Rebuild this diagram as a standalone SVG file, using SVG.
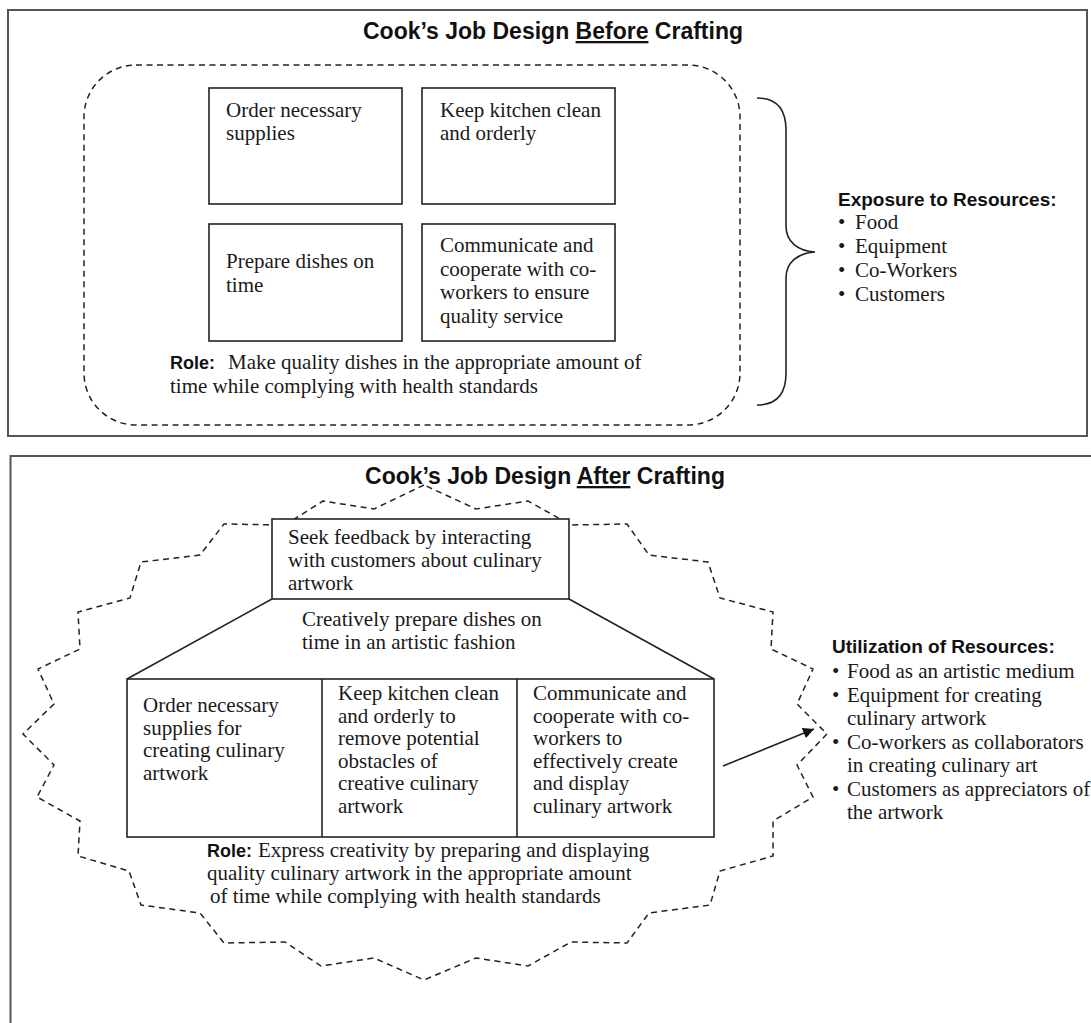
<svg xmlns="http://www.w3.org/2000/svg" width="1091" height="1023" viewBox="0 0 1091 1023">
<style>
.panel{fill:none;stroke:#555;stroke-width:2}
.box{fill:#fff;stroke:#222;stroke-width:1.6}
.dash{fill:none;stroke:#222;stroke-width:1.5;stroke-dasharray:6 4.5}
.line{fill:none;stroke:#222;stroke-width:1.6}
.title{font-family:"Liberation Sans",Arial,sans-serif;font-weight:bold;font-size:23px;fill:#111}
.head{font-family:"Liberation Sans",Arial,sans-serif;font-weight:bold;font-size:19px;fill:#111}
.role{font-family:"Liberation Sans",Arial,sans-serif;font-weight:bold;font-size:18px;fill:#111}
.t{font-family:"Liberation Serif","Times New Roman",serif;font-size:21px;fill:#1a1a1a}
</style>
<defs>
<marker id="ah" viewBox="0 0 10 10" refX="10" refY="5" markerWidth="11" markerHeight="11" markerUnits="userSpaceOnUse" orient="auto">
<path d="M0,0 L10,5 L0,10 z" fill="#111"/>
</marker>
</defs>
<rect width="1091" height="1023" fill="#fff"/>

<!-- Top panel -->
<g id="panel-before">
<rect class="panel" x="8" y="10" width="1079" height="426"/>
<text class="title" x="553" y="39" text-anchor="middle">Cook’s Job Design <tspan text-decoration="underline">Before</tspan> Crafting</text>
<rect class="dash" x="84" y="65" width="656" height="360" rx="52" ry="52"/>
</g>

<g id="box-order">
<rect class="box" x="209" y="88" width="193" height="116"/>
<text class="t" x="226" y="116.5">Order necessary<tspan x="226" y="140">supplies</tspan></text>
</g>
<g id="box-keep">
<rect class="box" x="422" y="88" width="193" height="116"/>
<text class="t" x="440" y="116.5">Keep kitchen clean<tspan x="440" y="140">and orderly</tspan></text>
</g>
<g id="box-prepare">
<rect class="box" x="209" y="224" width="193" height="117"/>
<text class="t" x="226" y="268">Prepare dishes on<tspan x="226" y="291.5">time</tspan></text>
</g>
<g id="box-communicate">
<rect class="box" x="422" y="224" width="193" height="117"/>
<text class="t" x="440" y="252">Communicate and<tspan x="440" y="275.5">cooperate with co-</tspan><tspan x="440" y="299">workers to ensure</tspan><tspan x="440" y="322.5">quality service</tspan></text>
</g>
<g id="role-before">
<text class="role" x="170" y="369">Role:</text>
<text class="t" x="228" y="369">Make quality dishes in the appropriate amount of</text>
<text class="t" x="170" y="393">time while complying with health standards</text>
</g>

<g id="brace">
<path class="line" d="M757,98 C776,98 786,108 786,130 L786,226 C786,242 798,251 815,252 C798,253 786,262 786,278 L786,373 C786,395 776,405 757,405"/>
</g>

<g id="exposure">
<text class="head" x="838" y="206">Exposure to Resources:</text>
<text class="t" x="838" y="229">•<tspan x="855">Food</tspan></text>
<text class="t" x="838" y="253">•<tspan x="855">Equipment</tspan></text>
<text class="t" x="838" y="277">•<tspan x="855">Co-Workers</tspan></text>
<text class="t" x="838" y="301">•<tspan x="855">Customers</tspan></text>
</g>

<!-- Bottom panel -->
<g id="panel-after">
<path class="panel" d="M10.5,1023 V456 H1091"/>
<text class="title" x="545" y="484" text-anchor="middle">Cook’s Job Design <tspan text-decoration="underline">After</tspan> Crafting</text>
<polygon class="dash" points="424,485 374,509 323,501 285,525 224,524 200,555 141,562 130,598 78,612 80,649 38,669 54,704 23,734 54,765 37,797 80,821 78,856 129,871 141,905 200,913 224,943 285,942 321,966 374,958 424,980 476,958 528,966 571,942 627,943 649,913 710,905 720,871 773,856 773,821 813,797 797,765 827,734 797,704 813,669 771,649 773,612 720,598 708,562 649,555 627,524 571,525 528,501 476,509"/>
</g>

<g id="box-feedback">
<rect class="box" x="272" y="519" width="297" height="80"/>
<text class="t" x="288" y="544">Seek feedback by interacting<tspan x="288" y="567">with customers about culinary</tspan><tspan x="288" y="590">artwork</tspan></text>
</g>
<g id="box-creatively">
<path class="line" d="M272,599 L127,679 M569,599 L714,679"/>
<text class="t" x="302" y="626">Creatively prepare dishes on<tspan x="302" y="649">time in an artistic fashion</tspan></text>
</g>
<g id="box-bottom">
<rect class="box" x="127" y="679" width="587" height="158"/>
<line class="line" x1="322" y1="679" x2="322" y2="837"/>
<line class="line" x1="517" y1="679" x2="517" y2="837"/>
</g>
<g id="col-order">
<text class="t" x="143" y="712">Order necessary<tspan x="143" y="734.5">supplies for</tspan><tspan x="143" y="757">creating culinary</tspan><tspan x="143" y="779.5">artwork</tspan></text>
</g>
<g id="col-keep">
<text class="t" x="338" y="700">Keep kitchen clean<tspan x="338" y="722.5">and orderly to</tspan><tspan x="338" y="745">remove potential</tspan><tspan x="338" y="767.5">obstacles of</tspan><tspan x="338" y="790">creative culinary</tspan><tspan x="338" y="812.5">artwork</tspan></text>
</g>
<g id="col-communicate">
<text class="t" x="533" y="700">Communicate and<tspan x="533" y="722.5">cooperate with co-</tspan><tspan x="533" y="745">workers to</tspan><tspan x="533" y="767.5">effectively create</tspan><tspan x="533" y="790">and display</tspan><tspan x="533" y="812.5">culinary artwork</tspan></text>
</g>
<g id="role-after">
<text class="role" x="207" y="857">Role:</text>
<text class="t" x="258" y="857">Express creativity by preparing and displaying</text>
<text class="t" x="207" y="880">quality culinary artwork in the appropriate amount</text>
<text class="t" x="210" y="903">of time while complying with health standards</text>
</g>

<g id="connectors">
<line class="line" x1="723" y1="766" x2="814" y2="729" marker-end="url(#ah)"/>
</g>

<g id="utilization">
<text class="head" x="832" y="653">Utilization of Resources:</text>
<text class="t" x="832" y="678">•<tspan x="847">Food as an artistic medium</tspan></text>
<text class="t" x="832" y="702">•<tspan x="847">Equipment for creating</tspan><tspan x="847" y="724.5">culinary artwork</tspan></text>
<text class="t" x="832" y="749">•<tspan x="847">Co-workers as collaborators</tspan><tspan x="847" y="771.5">in creating culinary art</tspan></text>
<text class="t" x="832" y="796">•<tspan x="847">Customers as appreciators of</tspan><tspan x="847" y="818.5">the artwork</tspan></text>
</g>
</svg>
